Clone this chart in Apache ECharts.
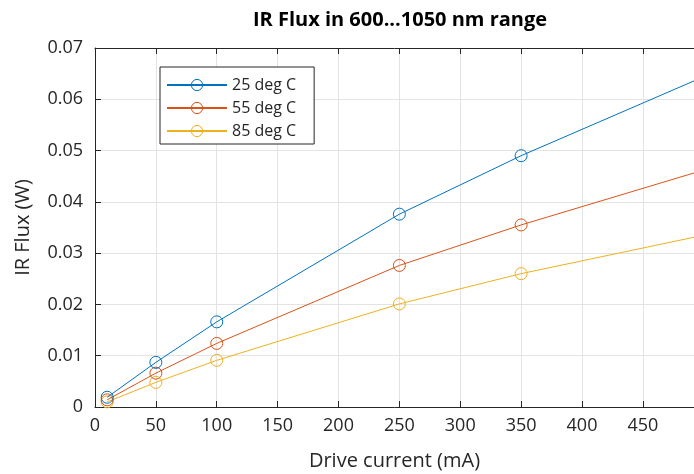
<!DOCTYPE html>
<html><head><meta charset="utf-8">
<script src="https://cdn.jsdelivr.net/npm/echarts@6/dist/echarts.min.js"></script>
<style>html,body{margin:0;padding:0;background:#fff}#c{width:694px;height:474px}</style>
</head><body><div id="c"></div>
<script>
const xValues = [10, 50, 100, 250, 350, 500];
const flux25 = [0.0019, 0.0087, 0.0166, 0.0376, 0.0490, 0.0644];
const flux55 = [0.0014, 0.0066, 0.0124, 0.0276, 0.0355, 0.0462];
const flux85 = [0.0010, 0.0048, 0.0091, 0.0201, 0.0260, 0.0335];
const seriesNames = ['25 deg C', '55 deg C', '85 deg C'];
const colors = ['#0072BD', '#D95319', '#EDB120'];
const FONT = '"Open Sans", "Noto Sans", sans-serif';
const axisCol = '#262626';

function mk(vals) {
  return vals.map((v, i) => i === xValues.length - 1
    ? { value: [xValues[i], v], symbol: 'none' }
    : [xValues[i], v]);
}
const chart = echarts.init(document.getElementById('c'), null, { renderer: 'canvas' });
const allVals = [flux25, flux55, flux85];
chart.setOption({
  animation: false,
  backgroundColor: '#fff',
  title: {
    text: 'IR Flux in 600...1050 nm range',
    left: 395, top: 5, textAlign: 'center',
    textStyle: { fontFamily: FONT, fontSize: 20, fontWeight: 'bold', color: '#000' }
  },
  grid: { left: 95, right: 0, top: 48, bottom: 67, containLabel: false, outerBoundsMode: 'none' },
  legend: {
    orient: 'vertical', left: 160, top: 67,
    data: seriesNames,
    itemWidth: 60, itemHeight: 14, itemGap: 7,
    padding: [10, 18, 5, 6],
    borderColor: '#262626', borderWidth: 1, backgroundColor: '#fff',
    itemStyle: { borderWidth: 1 },
    textStyle: { fontFamily: FONT, fontSize: 16, color: '#262626' }
  },
  xAxis: [{
    type: 'value', min: 0, max: 492, interval: 50,
    name: 'Drive current (mA)', nameLocation: 'middle', nameGap: 44,
    nameTextStyle: { fontFamily: FONT, fontSize: 20, color: axisCol },
    axisLine: { show: true, onZero: false, lineStyle: { color: axisCol, width: 1 } },
    axisTick: { show: true, inside: true, length: 6, lineStyle: { color: axisCol } },
    axisLabel: { fontFamily: FONT, fontSize: 18, color: axisCol, margin: 10, showMaxLabel: false },
    splitLine: { show: true, lineStyle: { color: '#e3e3e3', width: 1 } }
  }, {
    type: 'value', position: 'top', min: 0, max: 492, interval: 50,
    axisLine: { show: true, onZero: false, lineStyle: { color: axisCol, width: 1 } },
    axisTick: { show: true, inside: true, length: 6, lineStyle: { color: axisCol } },
    axisLabel: { show: false }, splitLine: { show: false }
  }],
  yAxis: {
    type: 'value', min: 0, max: 0.07, interval: 0.01,
    name: 'IR Flux (W)', nameLocation: 'middle', nameGap: 62,
    nameTextStyle: { fontFamily: FONT, fontSize: 20, color: axisCol },
    axisLine: { show: true, lineStyle: { color: axisCol, width: 1 } },
    axisTick: { show: true, inside: true, length: 6, lineStyle: { color: axisCol } },
    axisLabel: { fontFamily: FONT, fontSize: 18, color: axisCol, margin: 12,
      formatter: v => v === 0 ? '0' : v.toFixed(2) },
    splitLine: { show: true, lineStyle: { color: '#e3e3e3', width: 1 } }
  },
  series: seriesNames.map((n, k) => ({
    name: n, type: 'line', xAxisIndex: 0,
    data: mk(allVals[k]),
    symbol: 'circle', symbolSize: 12, showAllSymbol: true,
    color: colors[k],
    lineStyle: { color: colors[k], width: 1 },
    itemStyle: { color: 'rgba(255,255,255,0)', borderColor: colors[k], borderWidth: 1 },
    z: 3 - k
  }))
});
</script></body></html>
